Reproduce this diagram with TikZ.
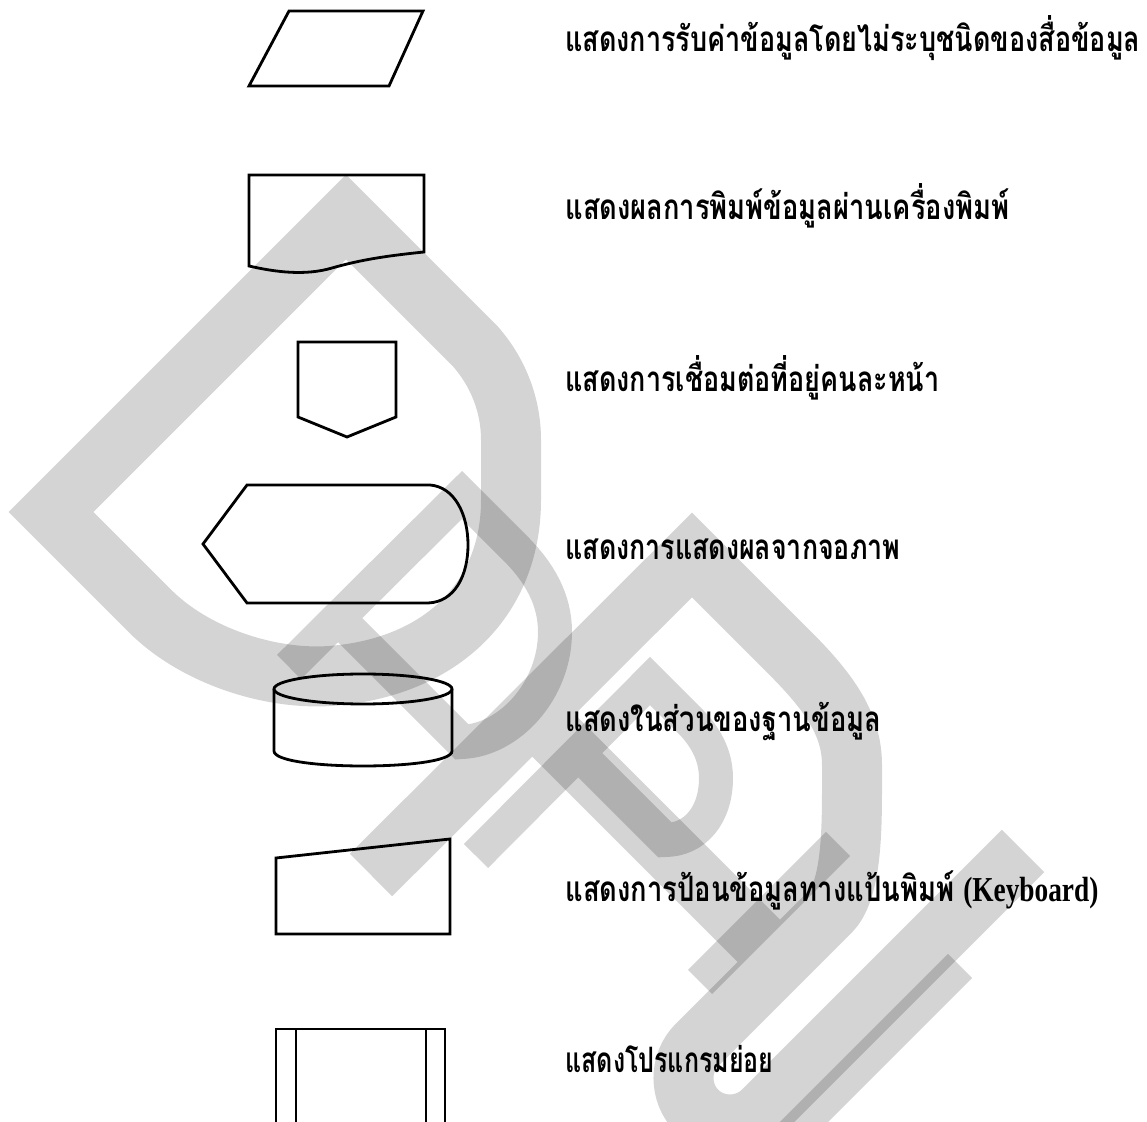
\documentclass[tikz,border=0pt]{standalone}
\usepackage{fontspec}
\usepackage{graphicx}
\newfontfamily\thaifont[Script=Thai]{Loma}
\newfontfamily\latinfont{Liberation Serif}
\tikzset{
  shp/.style={draw=black, line width=1.4pt, line join=miter},
  wm/.style={draw=black, draw opacity=0.17, line width=30pt, line join=miter, line cap=butt},
  wmthin/.style={wm, line width=17pt},
  lbl/.style={anchor=base west, inner sep=0pt, font=\thaifont\bfseries\fontsize{17.5}{20}\selectfont}
}
\begin{document}
\begin{tikzpicture}[x=0.5pt, y=-0.5pt]
\useasboundingbox (0,0) rectangle (1147,1122);
\begin{scope}
\clip (0,0) rectangle (1147,1122);
% watermark: D
\draw[wm] (346,217) -- (51,512) -- (150,611) .. controls (195,656) and (270,680) .. (330,676) .. controls (440,668) and (511,600) .. (511,500) -- (511,440) .. controls (511,405) and (498,372) .. (475,346) -- cycle;
% thin p (upper)
\draw[wmthin] (289,667) -- (462,495) -- (515,548) .. controls (540,573) and (555,600) .. (555,632) .. controls (555,690) and (510,740) .. (462,742) -- (338,618);
% P + U
\draw[wm] (371,875) -- (692,555) -- (790,653) .. controls (830,693) and (852,725) .. (852,765) -- (852,790) .. controls (852,840) and (850,892) .. (830,912) -- (697,1045) .. controls (679,1063) and (679,1093) .. (697,1111) .. controls (715,1129) and (745,1129) .. (763,1111) -- (1023,851)
  (790,972) -- (532,714);
% thin p inside P
\draw[wmthin] (476,856) -- (650,681) -- (690,721) .. controls (705,736) and (716,755) .. (716,778) .. controls (716,815) and (695,840) .. (665,840) -- (578,753);
% thin strokes
\draw[wmthin] (838,844) -- (700,982);
\draw[wmthin] (960,966) -- (780,1146);
% shapes
\draw[shp] (289,11) -- (423,11) -- (389,86) -- (249,86) -- cycle;
\draw[shp] (249,175) -- (424,175) -- (424,252) .. controls (385,256) and (360,260) .. (332,268) .. controls (305,276) and (275,272) .. (249,266) -- cycle;
\draw[shp] (298,342) -- (396,342) -- (396,417) -- (347,437) -- (298,417) -- cycle;
\draw[shp] (247,485) -- (430,485) .. controls (455,487) and (468,515) .. (468,545) .. controls (468,575) and (455,602) .. (428,603) -- (247,603) -- (203,544) -- cycle;
\draw[shp] (363,689) ellipse [x radius=89, y radius=15];
\draw[shp] (274,689) -- (274,751) .. controls (274,771) and (452,771) .. (452,751) -- (452,689);
\draw[shp] (276,858) -- (450,839) -- (450,934) -- (276,934) -- cycle;
\draw[shp] (276,1160) -- (276,1029) -- (445,1029) -- (445,1160);
\draw[shp] (296,1029) -- (296,1160);
\draw[shp] (426,1029) -- (426,1160);
\end{scope}
% labels
\node[lbl] (t1) at (565,52) {\resizebox{287.5pt}{\height}{แสดงการรับค่าข้อมูลโดยไม่ระบุชนิดของสื่อข้อมูล}};
\node[lbl] (t2) at (565,220) {\resizebox{222pt}{\height}{แสดงผลการพิมพ์ข้อมูลผ่านเครื่องพิมพ์}};
\node[lbl] (t3) at (565,392) {\resizebox{187pt}{\height}{แสดงการเชื่อมต่อที่อยู่คนละหน้า}};
\node[lbl] (t4) at (565,560) {\resizebox{167.5pt}{\height}{แสดงการแสดงผลจากจอภาพ}};
\node[lbl] (t5) at (565,732) {\resizebox{158pt}{\height}{แสดงในส่วนของฐานข้อมูล}};
\node[lbl] (t6) at (565,902) {\resizebox{266.5pt}{\height}{แสดงการป้อนข้อมูลทางแป้นพิมพ์ {\latinfont\bfseries (Keyboard)}}};
\node[lbl] (t7) at (565,1072) {\resizebox{104pt}{\height}{แสดงโปรแกรมย่อย}};
\end{tikzpicture}
\end{document}
